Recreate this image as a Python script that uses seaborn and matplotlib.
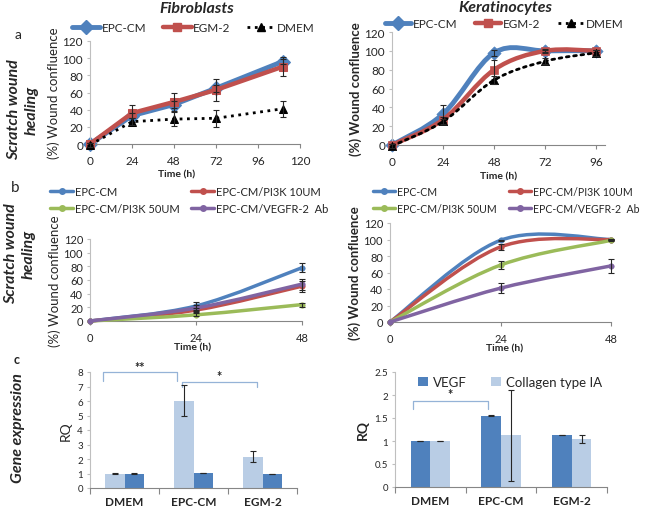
import numpy as np
import pandas as pd
import matplotlib
matplotlib.use("Agg")
import matplotlib.pyplot as plt
import seaborn as sns
from matplotlib.path import Path
from matplotlib.patches import PathPatch, Patch
from matplotlib.lines import Line2D

# DATA

# a - scratch wound, fibroblasts (straight lines)
fib_time = [0, 24, 48, 72, 110]
fib_epc = [0, 33, 46, 65, 96]
fib_epc_err = [1, 3, 4, 4, 3]
fib_egm = [0, 36, 49, 63, 90]
fib_egm_err = [1, 10, 11, 13, 11]
fib_dmem = [-1, 26, 29, 30, 41]
fib_dmem_err = [2, 4, 8, 10, 9]

# a - scratch wound, keratinocytes (smoothed lines)
ker_time = [0, 24, 48, 72, 96]
ker_epc = [0, 33, 98, 100, 100]
ker_epc_err = [1, 9, 3, 1, 1]
ker_egm = [0, 27, 80, 100, 100]
ker_egm_err = [1, 3, 10, 2, 1]
ker_dmem = [-1, 25, 69, 89, 98]
ker_dmem_err = [2, 3, 4, 3, 3]

# b - inhibitors
inh_time = [0, 24, 48]
inh_labels = ["EPC-CM", "EPC-CM/PI3K 10UM", "EPC-CM/PI3K 50UM", "EPC-CM/VEGFR-2  Ab"]
fib_inh = [[0, 22, 78], [0, 16, 51], [0, 9, 24], [0, 19, 54]]
fib_inh_err = [[0, 6, 7], [0, 3, 8], [0, 2, 3], [0, 4, 8]]
ker_inh = [[0, 99, 100], [0, 91, 100], [0, 69, 99], [0, 41, 68]]
ker_inh_err = [[0, 1, 1], [0, 4, 1], [0, 5, 1], [0, 6, 8]]

# c - gene expression
groups = ["DMEM", "EPC-CM", "EGM-2"]
fib_col = [1.0, 6.02, 2.17]
fib_col_err = [0.01, 1.06, 0.36]
fib_vegf = [1.0, 1.03, 0.97]
fib_vegf_err = [0.01, 0.02, 0.01]
ker_vegf = [1.0, 1.55, 1.13]
ker_vegf_err = [0.005, 0.01, 0.01]
ker_col = [1.0, 1.12, 1.04]
ker_col_err = [0.005, 0.99, 0.09]

BLUE = "#4F81BD"
RED = "#C0504D"
GREEN = "#9BBB59"
PURPLE = "#8064A2"
LIGHT = "#B9CDE5"
DARK = "#4F81BD"
TXT = "#262626"
inh_colors = [BLUE, RED, GREEN, PURPLE]

sns.set_theme(style="white")
plt.rcParams["font.family"] = ["Lato", "DejaVu Sans"]
plt.rcParams["text.color"] = TXT

W, H = 658, 510
fig = plt.figure(figsize=(W / 100, H / 100), dpi=100)


def px_axes(left, top, right, bottom):
    return fig.add_axes([left / W, 1 - bottom / H, (right - left) / W, (bottom - top) / H])


def ftext(x, y, s, **kw):
    fig.text(x / W, 1 - y / H, s, ha="center", va="center", **kw)


def style(ax, fs=8):
    sns.despine(ax=ax)
    ax.spines["left"].set_color("#BFBFBF")
    ax.spines["bottom"].set_color("#868686")
    ax.spines["left"].set_linewidth(0.8)
    ax.spines["bottom"].set_linewidth(0.8)
    ax.tick_params(axis="x", direction="out", length=3, width=0.8, color="#868686",
                   labelsize=fs, labelcolor=TXT, pad=5, bottom=True)
    ax.tick_params(axis="y", direction="out", length=2, width=0.8, color="#BFBFBF",
                   labelsize=fs, labelcolor=TXT, pad=3, left=True)
    ax.grid(False)


def smooth_path(x, y):
    pts = np.column_stack([x, y]).astype(float)
    n = len(pts)
    verts = [pts[0]]
    codes = [Path.MOVETO]
    for i in range(n - 1):
        p0 = pts[max(i - 1, 0)]
        p1 = pts[i]
        p2 = pts[i + 1]
        p3 = pts[min(i + 2, n - 1)]
        verts += [p1 + (p2 - p0) / 6, p2 - (p3 - p1) / 6, p2]
        codes += [Path.CURVE4] * 3
    return Path(verts, codes)


def smooth_line(ax, x, y, color, lw, ls="-", z=2):
    patch = PathPatch(smooth_path(x, y), fill=False, edgecolor=color, lw=lw,
                      linestyle=ls, capstyle="round", joinstyle="round", zorder=z,
                      clip_on=False)
    ax.add_patch(patch)


def err(ax, x, y, e, z=3):
    ax.errorbar(x, y, yerr=e, fmt="none", ecolor="#262626", elinewidth=0.8,
                capsize=2.5, capthick=0.8, zorder=z, clip_on=False)


# PANEL A - FIBROBLASTS
ax = px_axes(90, 42, 300, 145)
sns.lineplot(x=fib_time, y=fib_epc, ax=ax, color=BLUE, lw=3.5, marker="D",
             markersize=7, markeredgecolor=BLUE, zorder=2, clip_on=False)
sns.lineplot(x=fib_time, y=fib_egm, ax=ax, color=RED, lw=3.2, marker="s",
             markersize=6, markeredgecolor=RED, zorder=3, clip_on=False)
sns.lineplot(x=fib_time, y=fib_dmem, ax=ax, color="black", lw=2, linestyle=":",
             marker="^", markersize=6, markeredgecolor="black", zorder=4, clip_on=False)
err(ax, fib_time, fib_epc, fib_epc_err)
err(ax, fib_time, fib_egm, fib_egm_err)
err(ax, fib_time, fib_dmem, fib_dmem_err, z=5)
ax.set_xlim(0, 120)
ax.set_ylim(0, 120)
ax.set_xticks(range(0, 121, 24))
ax.set_yticks(range(0, 121, 20))
style(ax, 8.5)
ax.set_ylabel("(%) Wound confluence", fontsize=9.5, labelpad=2, color=TXT)

a_handles = [
    Line2D([], [], color=BLUE, lw=3.5, marker="D", ms=7),
    Line2D([], [], color=RED, lw=3.2, marker="s", ms=6),
    Line2D([], [], color="black", lw=2, ls=":", marker="^", ms=6),
]
a_labels = ["EPC-CM", "EGM-2", "DMEM"]
ax.legend(a_handles, a_labels, loc="center left", bbox_to_anchor=(72 / W, 1 - 29 / H),
          bbox_transform=fig.transFigure, ncol=3, frameon=False, fontsize=8.5,
          handlelength=2.4, handletextpad=0.15, columnspacing=1.4, borderpad=0,
          borderaxespad=0)

# PANEL A - KERATINOCYTES
ax = px_axes(392, 33, 605, 146)
smooth_line(ax, ker_time, ker_epc, BLUE, 3.5, z=2)
smooth_line(ax, ker_time, ker_egm, RED, 3.2, z=3)
smooth_line(ax, ker_time, ker_dmem, "black", 2, ls=":", z=4)
sns.scatterplot(x=ker_time, y=ker_epc, ax=ax, marker="D", s=45, color=BLUE,
                edgecolor=BLUE, zorder=2, clip_on=False)
sns.scatterplot(x=ker_time, y=ker_egm, ax=ax, marker="s", s=36, color=RED,
                edgecolor=RED, zorder=3, clip_on=False)
sns.scatterplot(x=ker_time, y=ker_dmem, ax=ax, marker="^", s=36, color="black",
                edgecolor="black", zorder=4, clip_on=False)
err(ax, ker_time, ker_epc, ker_epc_err)
err(ax, ker_time, ker_egm, ker_egm_err)
err(ax, ker_time, ker_dmem, ker_dmem_err, z=5)
ax.set_xlim(0, 100)
ax.set_ylim(0, 120)
ax.set_xticks(range(0, 97, 24))
ax.set_yticks(range(0, 121, 20))
style(ax, 8.5)
ax.set_ylabel("(%) Wound confluence", fontsize=9.5, labelpad=2, color=TXT,
              fontweight="bold")
ax.legend(a_handles, a_labels, loc="center left", bbox_to_anchor=(385 / W, 1 - 25 / H),
          bbox_transform=fig.transFigure, ncol=3, frameon=False, fontsize=8.5,
          handlelength=2.2, handletextpad=0.15, columnspacing=1.5, borderpad=0,
          borderaxespad=0)

# PANEL B
b_handles = [Line2D([], [], color=c, lw=2.5, marker="o", ms=4) for c in inh_colors]
b_order = [0, 2, 1, 3]
for box, data, errs, leg_x, colsp, lfs, bold in [
        ((90, 240, 302, 322), fib_inh, fib_inh_err, 50, 1.0, 8, "normal"),
        ((390, 224, 611, 323), ker_inh, ker_inh_err, 373, 1.2, 7.6, "bold")]:
    ax = px_axes(*box)
    for i, (vals, e, c) in enumerate(zip(data, errs, inh_colors)):
        smooth_line(ax, inh_time, vals, c, 2.5, z=2 + i)
        sns.scatterplot(x=inh_time, y=vals, ax=ax, marker="o", s=16, color=c,
                        edgecolor=c, zorder=2 + i, clip_on=False)
        err(ax, inh_time[1:], vals[1:], e[1:], z=7)
    ax.set_xlim(0, 48)
    ax.set_ylim(0, 120)
    ax.set_xticks(inh_time)
    ax.set_yticks(range(0, 121, 20))
    style(ax, 8)
    ax.set_ylabel("(%) Wound confluence", fontsize=9.5, labelpad=2, color=TXT,
                  fontweight=bold)
    ax.legend([b_handles[k] for k in b_order], [inh_labels[k] for k in b_order],
              loc="center left", bbox_to_anchor=(leg_x / W, 1 - 201 / H),
              bbox_transform=fig.transFigure, ncol=2, frameon=False, fontsize=lfs,
              handlelength=2.1, handletextpad=0.15, columnspacing=colsp,
              labelspacing=0.55, borderpad=0, borderaxespad=0)

# PANEL C
def bar_panel(box, first, first_err, second, second_err, names, colors, ymax, yticks,
              ylabels, bold):
    ax = px_axes(*box)
    df = pd.DataFrame({
        "group": groups * 2,
        "gene": [names[0]] * 3 + [names[1]] * 3,
        "RQ": list(first) + list(second),
    })
    sns.barplot(data=df, x="group", y="RQ", hue="gene", hue_order=names,
                palette=colors, width=0.56, gap=0, errorbar=None, legend=False,
                saturation=1, linewidth=0, ax=ax)
    for cont, errs in zip(ax.containers, [first_err, second_err]):
        for bar, e in zip(cont, errs):
            err(ax, bar.get_x() + bar.get_width() / 2, bar.get_height(), e)
    ax.set_xlim(-0.5, 2.5)
    ax.set_ylim(0, ymax)
    ax.set_yticks(yticks, ylabels)
    style(ax, 7)
    ax.set_xticks([-0.5, 0.5, 1.5, 2.5], minor=True)
    ax.tick_params(axis="x", which="major", length=0, pad=6)
    ax.tick_params(axis="x", which="minor", length=4, width=0.8, color="#868686",
                   direction="out", bottom=True)
    for lab in ax.get_xticklabels():
        lab.set_fontweight("bold")
        lab.set_fontsize(8.5)
    ax.set_xlabel("")
    ax.set_ylabel("RQ", fontsize=10, labelpad=4, color=TXT, fontweight=bold)
    return ax


def bracket(ax, x0, x1, y, drop, label, ly):
    ax.plot([x0, x0, x1, x1], [y - drop, y, y, y - drop], color="#95B3D7", lw=0.9,
            clip_on=False)
    ax.text((x0 + x1) / 2, ly, label, ha="center", va="center", fontsize=9,
            fontweight="bold", color=TXT)


ax = bar_panel((90, 373, 297, 489), fib_col, fib_col_err, fib_vegf, fib_vegf_err,
               ["Collagen type IA", "VEGF"], [LIGHT, DARK], 8, range(0, 9),
               [str(v) for v in range(0, 9)], "normal")
bracket(ax, -0.31, 0.76, 8.0, 0.6, "**", 8.35)
bracket(ax, 0.83, 1.92, 7.3, 0.35, "*", 7.72)

ax = bar_panel((395, 373, 607, 488), ker_vegf, ker_vegf_err, ker_col, ker_col_err,
               ["VEGF", "Collagen type IA"], [DARK, LIGHT], 2.5,
               [0, 0.5, 1, 1.5, 2, 2.5], ["0", "0.5", "1", "1.5", "2", "2.5"], "bold")
bracket(ax, -0.245, 0.815, 1.87, 0.17, "*", 2.02)
c_handles = [Patch(facecolor=DARK, edgecolor="none"), Patch(facecolor=LIGHT, edgecolor="none")]
ax.legend(c_handles, ["VEGF", "Collagen type IA"], loc="center left",
          bbox_to_anchor=(418 / W, 1 - 383 / H), bbox_transform=fig.transFigure,
          ncol=2, frameon=False, fontsize=9.5, handlelength=0.75, handleheight=0.75,
          handletextpad=0.4, columnspacing=1.8, borderpad=0, borderaxespad=0)

# TEXT AROUND THE PANELS
ftext(197, 9, "Fibroblasts", fontsize=11.5, fontweight="bold", fontstyle="italic")
ftext(505, 8, "Keratinocytes", fontsize=11.5, fontweight="bold", fontstyle="italic")
for x, y in [(177, 175), (499, 177), (193, 348), (505, 349)]:
    ftext(x, y, "Time (h)", fontsize=7.5, fontweight="bold")
side = dict(rotation=90, fontsize=11.5, fontweight="bold", fontstyle="italic",
            multialignment="center", linespacing=1.3)
ftext(23, 110, "Scratch wound\nhealing", **side)
ftext(20, 254, "Scratch wound\nhealing", **side)
ftext(18, 428, "Gene expression", **side)
ftext(18, 35, "a", fontsize=10)
ftext(15, 188, "b", fontsize=11)
ftext(17, 360, "c", fontsize=9, fontweight="bold")

fig.savefig("out.png", dpi=100)
plt.close(fig)
